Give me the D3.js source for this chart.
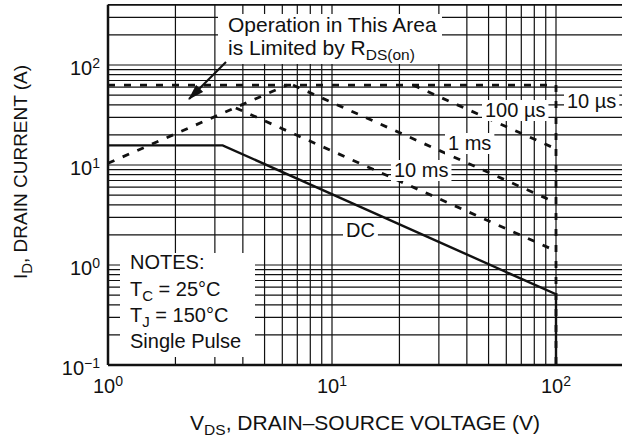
<!DOCTYPE html>
<html>
<head>
<meta charset="utf-8">
<script src="https://cdn.jsdelivr.net/npm/d3@7"></script>
<style>
  html, body { margin: 0; padding: 0; background: #fff; }
  svg { display: block; }
  text { font-family: "Liberation Sans", Arial, Helvetica, sans-serif; fill: #111; }
</style>
</head>
<body>
<svg id="chart" width="622" height="440"></svg>
<script>
// ---------- data ----------
const xDomain = [1, 200];          // V_DS (V)
const yDomain = [0.1, 400];        // I_D (A)
const xTickValues = [1, 10, 100];
const xTickExps = ["0", "1", "2"];
const yTickValues = [0.1, 1, 10, 100];
const yTickExps = ["\u22121", "0", "1", "2"];

// R_DS(on) limit line
const rdsV = [1, 6.3];
const rdsI = [10.4, 63];
// 10 µs (current limit + voltage limit)
const us10V = [1, 100, 100];
const us10I = [63, 63, 0.1];
// 100 µs
const us100V = [23, 100];
const us100I = [63, 14.5];
// 1 ms
const ms1V = [6.7, 100];
const ms1I = [63, 4.2];
// 10 ms
const ms10V = [3.72, 100];
const ms10I = [37.2, 1.38];
// DC
const dcV = [1, 3.25, 100, 100];
const dcI = [15.7, 15.7, 0.51, 0.1];

// ---------- layout ----------
const svg = d3.select("#chart");
const plotLeft = 108, plotBottom = 365;
const x = d3.scaleLog().domain(xDomain).range([plotLeft, plotLeft + 224 * Math.log10(200)]);
const y = d3.scaleLog().domain(yDomain).range([plotBottom, plotBottom - 100 * Math.log10(4000)]);
const plotTop = y(400), plotRight = 622;

// grid values
const xGrid = [];
for (const d of [1, 10, 100]) for (let m = 1; m <= 9; m++) { const v = d * m; if (v <= 200) xGrid.push(v); }
const yGrid = [];
for (const d of [0.1, 1, 10, 100]) for (let m = 1; m <= 9; m++) { const v = +(d * m).toPrecision(3); if (v <= 400) yGrid.push(v); }

const grid = svg.append("g");
grid.selectAll("line.v").data(xGrid).join("line")
  .attr("x1", d => x(d)).attr("x2", d => x(d))
  .attr("y1", plotTop).attr("y2", plotBottom)
  .attr("stroke", "#111").attr("stroke-width", 1.2);
grid.selectAll("line.h").data(yGrid).join("line")
  .attr("x1", plotLeft).attr("x2", plotRight)
  .attr("y1", d => y(d)).attr("y2", d => y(d))
  .attr("stroke", "#111").attr("stroke-width", 1.2);

// frame
svg.append("line").attr("x1", plotLeft).attr("x2", plotRight).attr("y1", plotTop).attr("y2", plotTop)
  .attr("stroke", "#111").attr("stroke-width", 1.6);
svg.append("line").attr("x1", plotLeft).attr("x2", plotLeft).attr("y1", plotTop).attr("y2", plotBottom)
  .attr("stroke", "#111").attr("stroke-width", 2.5);
svg.append("line").attr("x1", plotLeft).attr("x2", plotRight).attr("y1", plotBottom).attr("y2", plotBottom)
  .attr("stroke", "#111").attr("stroke-width", 2.5);

// white boxes hiding grid behind text blocks
svg.append("rect").attr("x", 218).attr("y", 14).attr("width", 224).attr("height", 50).attr("fill", "#fff");
svg.append("rect").attr("x", 120).attr("y", 253).attr("width", 135).attr("height", 104).attr("fill", "#fff");

// curves
const line = d3.line().x(d => x(d[0])).y(d => y(d[1]));
const zip = (a, b) => a.map((v, i) => [v, b[i]]);
const dashed = [
  zip(rdsV, rdsI), zip(us10V, us10I), zip(us100V, us100I), zip(ms1V, ms1I), zip(ms10V, ms10I)
];
svg.selectAll("path.dash").data(dashed).join("path")
  .attr("d", line).attr("fill", "none").attr("stroke", "#111")
  .attr("stroke-width", 2.8).attr("stroke-dasharray", "7,9");
svg.append("path").datum(zip(dcV, dcI)).attr("d", line)
  .attr("fill", "none").attr("stroke", "#111").attr("stroke-width", 2.4);

// curve labels with white background
function label(txt, tx, ty) {
  const g = svg.append("g");
  const t = g.append("text").attr("x", tx).attr("y", ty).attr("font-size", 20).text(txt);
  const b = t.node().getBBox();
  g.insert("rect", "text").attr("x", b.x - 3).attr("y", b.y + 1).attr("width", b.width + 6)
    .attr("height", b.height - 1).attr("fill", "#fff");
}
label("100 \u00B5s", 485, 117);
label("10 \u00B5s", 567, 108);
label("1 ms", 448, 150);
label("10 ms", 394, 177);
label("DC", 346, 237);

// Operation text block
const op = svg.append("text").attr("font-size", 21);
op.append("tspan").attr("x", 228).attr("y", 32).text("Operation in This Area");
const op2 = svg.append("text").attr("x", 228).attr("y", 55).attr("font-size", 21);
op2.append("tspan").text("is Limited by R");
op2.append("tspan").attr("font-size", 15.5).attr("dy", 5).text("DS(on)");

// arrow
svg.append("defs").append("marker").attr("id", "ah")
  .attr("viewBox", "0 0 16 10").attr("refX", 15).attr("refY", 5)
  .attr("markerWidth", 16).attr("markerHeight", 10).attr("markerUnits", "userSpaceOnUse")
  .attr("orient", "auto")
  .append("path").attr("d", "M0,0 L16,5 L0,10 z").attr("fill", "#111");
svg.append("line").attr("x1", 226).attr("y1", 62).attr("x2", 189).attr("y2", 99)
  .attr("stroke", "#111").attr("stroke-width", 2.2).attr("marker-end", "url(#ah)");

// NOTES block
const notes = svg.append("g").attr("font-size", 20);
notes.append("text").attr("x", 130).attr("y", 269).text("NOTES:");
const n2 = notes.append("text").attr("x", 130).attr("y", 296);
n2.append("tspan").text("T");
n2.append("tspan").attr("font-size", 15).attr("dy", 5).text("C");
n2.append("tspan").attr("dy", -5).text(" = 25\u00B0C");
const n3 = notes.append("text").attr("x", 130).attr("y", 322);
n3.append("tspan").text("T");
n3.append("tspan").attr("font-size", 15).attr("dy", 5).text("J");
n3.append("tspan").attr("dy", -5).text(" = 150\u00B0C");
notes.append("text").attr("x", 130).attr("y", 348).text("Single Pulse");

// tick labels
const yl = svg.append("g").selectAll("text").data(yTickValues).join("text")
  .attr("x", 100).attr("y", d => y(d) + 10).attr("text-anchor", "end").attr("font-size", 20);
yl.append("tspan").text("10");
yl.append("tspan").attr("font-size", 14).attr("dy", -7).text((d, i) => yTickExps[i]);

const xl = svg.append("g").selectAll("text").data(xTickValues).join("text")
  .attr("x", d => x(d)).attr("y", 393).attr("text-anchor", "middle").attr("font-size", 20);
xl.append("tspan").text("10");
xl.append("tspan").attr("font-size", 14).attr("dy", -7).text((d, i) => xTickExps[i]);

// axis titles
const xt = svg.append("text").attr("x", 365).attr("y", 430).attr("text-anchor", "middle").attr("font-size", 21);
xt.append("tspan").text("V");
xt.append("tspan").attr("font-size", 15.5).attr("dy", 5).text("DS");
xt.append("tspan").attr("dy", -5).text(", DRAIN\u2013SOURCE VOLTAGE (V)");

const yt = svg.append("text").attr("transform", "translate(27,172) rotate(-90)")
  .attr("text-anchor", "middle").attr("font-size", 19);
yt.append("tspan").text("I");
yt.append("tspan").attr("font-size", 15).attr("dy", 5).text("D");
yt.append("tspan").attr("dy", -5).text(", DRAIN CURRENT (A)");
</script>
</body>
</html>
